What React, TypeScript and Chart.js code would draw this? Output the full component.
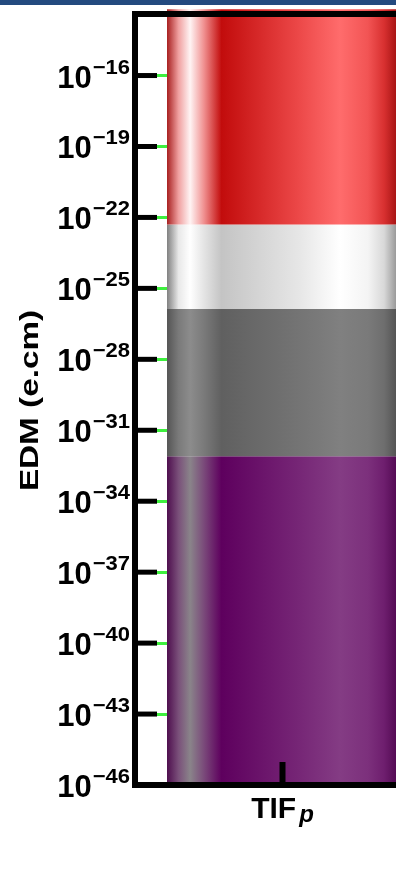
import React, { useEffect, useRef } from "react";
import { Chart, registerables } from "chart.js";

Chart.register(...registerables);

// ---- data ----
const categories = ["TIF_p"];
const bandNames = ["Band 1", "Band 2", "Band 3", "Band 4"];
const bandLow = [5e-23, 1.35e-26, 8e-33, 1e-46];
const bandHigh = [6.3e-14, 5e-23, 1.35e-26, 8e-33];
const tickExponents = [-46, -43, -40, -37, -34, -31, -28, -25, -22, -19, -16];
const yMin = 1e-46;
const yMax = 4e-14;
const yTitle = "EDM (e.cm)";

// ---- styles ----
const gradientStops = [0, 0.05, 0.1, 0.16, 0.236, 0.57, 0.75, 0.87, 0.94, 1];
const bandPalettes = [
  ["#a82020", "#f0a0a0", "#fff4f4", "#f09090", "#c20c0c", "#ec4848", "#ff6c6c", "#f25454", "#d83030", "#a01010"],
  ["#808080", "#e8e8e8", "#ffffff", "#e4e4e4", "#c4c4c4", "#e6e6e6", "#ffffff", "#f4f4f4", "#d8d8d8", "#909090"],
  ["#555555", "#7a7a7a", "#8c8c8c", "#7a7a7a", "#606060", "#747474", "#808080", "#7a7a7a", "#6e6e6e", "#505050"],
  ["#4e0e4e", "#7a507a", "#8a848a", "#7a4a7a", "#5e005e", "#762676", "#843c84", "#7c307c", "#6e1e6e", "#500850"],
];
const BAR_PCT = 0.783;
const FONT = "'Liberation Sans', Arial, Helvetica, sans-serif";

export default function App() {
  const ref = useRef<HTMLCanvasElement | null>(null);

  useEffect(() => {
    document.body.style.margin = "0";
    const canvas = ref.current;
    if (!canvas) return;

    const makeGradient = (chart: any, idx: number) => {
      const xs = chart.scales?.x;
      const area = chart.chartArea;
      const pal = bandPalettes[idx];
      if (!xs || !area) return pal[4];
      const center = xs.getPixelForValue(0);
      const half = ((xs.right - xs.left) / categories.length) * BAR_PCT / 2;
      const g = chart.ctx.createLinearGradient(center - half, 0, center + half, 0);
      gradientStops.forEach((s, k) => g.addColorStop(s, pal[k]));
      return g;
    };

    const framePlugin = {
      id: "frame",
      afterDraw(chart: any) {
        const { ctx, chartArea: a, scales } = chart;
        const y = scales.y;
        const x = scales.x;
        ctx.save();
        ctx.strokeStyle = "#000";
        ctx.lineWidth = 6;
        ctx.strokeRect(a.left, a.top, a.right - a.left, a.bottom - a.top);

        // inner y ticks
        ctx.lineWidth = 5;
        y.ticks.forEach((t: any) => {
          const py = y.getPixelForValue(t.value);
          ctx.beginPath();
          ctx.moveTo(a.left, py);
          ctx.lineTo(a.left + 22, py);
          ctx.stroke();
        });
        // inner x ticks
        ctx.lineWidth = 6;
        categories.forEach((_, i) => {
          const px = x.getPixelForValue(i);
          ctx.beginPath();
          ctx.moveTo(px, a.bottom);
          ctx.lineTo(px, a.bottom - 23);
          ctx.stroke();
        });

        // y tick labels
        ctx.fillStyle = "#000";
        ctx.textBaseline = "alphabetic";
        const supScale = 1.1;
        y.ticks.forEach((t: any) => {
          const py = y.getPixelForValue(t.value);
          const e = Math.round(Math.log10(t.value));
          const sup = (e < 0 ? "\u2212" : "") + Math.abs(e);
          ctx.font = `bold 20px ${FONT}`;
          const supW = ctx.measureText(sup).width * supScale;
          ctx.save();
          ctx.translate(a.left - 5, py - 2);
          ctx.scale(supScale, 1);
          ctx.textAlign = "right";
          ctx.fillText(sup, 0, 0);
          ctx.restore();
          ctx.textAlign = "right";
          ctx.font = `bold 31px ${FONT}`;
          ctx.fillText("10", a.left - 5 - supW - 1, py + 12);
        });

        // x labels
        ctx.textAlign = "left";
        categories.forEach((c, i) => {
          const px = x.getPixelForValue(i);
          const [main, sub] = c.split("_");
          ctx.font = `bold 30px ${FONT}`;
          const w1 = ctx.measureText(main).width;
          ctx.font = `italic bold 24px ${FONT}`;
          const w2 = sub ? ctx.measureText(sub).width : 0;
          const total = w1 + (sub ? 3 + w2 : 0);
          const sx = px - total / 2;
          ctx.font = `bold 30px ${FONT}`;
          ctx.fillText(main, sx, a.bottom + 33);
          if (sub) {
            ctx.font = `italic bold 24px ${FONT}`;
            ctx.fillText(sub, sx + w1 + 3, a.bottom + 37);
          }
        });

        // y title (horizontally stretched as in the reference)
        ctx.translate(38, (a.top + a.bottom) / 2 + 1);
        ctx.rotate(-Math.PI / 2);
        ctx.scale(1.28, 1);
        ctx.textAlign = "center";
        ctx.textBaseline = "alphabetic";
        ctx.font = `bold 26px ${FONT}`;
        ctx.fillText(yTitle, 0, 0);
        ctx.restore();
      },
    };

    const chart = new Chart(canvas, {
      type: "bar",
      data: {
        labels: categories,
        datasets: bandNames.map((name, i) => ({
          label: name,
          data: categories.map(() => [bandLow[i], bandHigh[i]]),
          backgroundColor: (c: any) => makeGradient(c.chart, i),
          borderWidth: 0,
          grouped: false,
          barPercentage: BAR_PCT,
          categoryPercentage: 1,
          clip: false,
        })) as any,
      },
      options: {
        responsive: false,
        animation: false,
        devicePixelRatio: 1,
        layout: { padding: { left: 135, top: 14, right: 10, bottom: 109 } },
        plugins: { legend: { display: false }, tooltip: { enabled: false } },
        scales: {
          x: {
            offset: true,
            grid: { display: false, drawTicks: false },
            ticks: { display: false },
            border: { display: false },
          },
          y: {
            type: "logarithmic",
            min: yMin,
            max: yMax,
            bounds: "data",
            grid: { color: "#3ef03e", lineWidth: 3, drawTicks: false },
            ticks: { display: false },
            border: { display: false },
            afterBuildTicks: (s: any) => {
              s.ticks = tickExponents.map((e) => ({ value: Math.pow(10, e) }));
            },
          },
        },
      } as any,
      plugins: [framePlugin],
    });
    return () => chart.destroy();
  }, []);

  return (
    <div style={{ position: "relative", width: 396, height: 894, overflow: "hidden", background: "#fff" }}>
      <canvas ref={ref} width={440} height={894} style={{ position: "absolute", left: 0, top: 0, width: 440, height: 894 }} />
      <div style={{ position: "absolute", left: 0, top: 0, width: 396, height: 5, background: "#234a7f" }} />
    </div>
  );
}
